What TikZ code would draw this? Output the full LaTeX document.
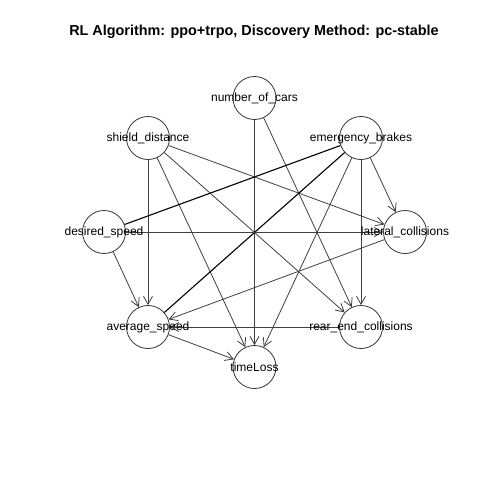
\documentclass[tikz,border=0pt]{standalone}
\usepackage{fontspec}
\setmainfont{Liberation Sans}
\usetikzlibrary{arrows.meta}
\begin{document}
\begin{tikzpicture}[x=1pt,y=-1pt,
  vnode/.style={circle,draw=black!80,line width=0.8pt,minimum size=43pt,inner sep=0pt},
  vlab/.style={font=\fontsize{12}{14}\selectfont,inner sep=0pt},
  dir/.style={draw=black!75,line width=0.8pt,-{Straight Barb[length=8pt,width=9pt]}},
  undir/.style={draw=black,line width=1.1pt}]
\useasboundingbox (0,0) rectangle (480,480);
\node[font=\fontsize{14.4}{16}\selectfont\bfseries] (title) at (254,32) {RL Algorithm: ppo+trpo, Discovery Method: pc-stable};
\node[vnode] (nc) at (254.5,98) {};
\node[vnode] (sd) at (148,138) {};
\node[vnode] (eb) at (361,138) {};
\node[vnode] (ds) at (104,232) {};
\node[vnode] (lc) at (405,232) {};
\node[vnode] (as) at (148,327) {};
\node[vnode] (rc) at (361,327) {};
\node[vnode] (tl) at (254.5,367) {};
% edges
\draw[dir] (nc) -- (tl);
\draw[dir] (nc) -- (rc);
\draw[dir] (sd) -- (lc);
\draw[dir] (sd) -- (rc);
\draw[dir] (sd) -- (as);
\draw[dir] (sd) -- (tl);
\draw[undir] (eb) -- (ds);
\draw[undir] (eb) -- (as);
\draw[dir] (eb) -- (lc);
\draw[dir] (eb) -- (rc);
\draw[dir] (eb) -- (tl);
\draw[dir] (ds) -- (lc);
\draw[dir] (ds) -- (as);
\draw[dir] (lc) -- (as);
\draw[dir] (rc) -- (as);
\draw[dir] (as) -- (tl);
% labels
\node[vlab] (ncl) at (nc) {number\_of\_cars};
\node[vlab] (sdl) at (sd) {shield\_distance};
\node[vlab] (ebl) at (eb) {emergency\_brakes};
\node[vlab] (dsl) at (ds) {desired\_speed};
\node[vlab] (lcl) at (lc) {lateral\_collisions};
\node[vlab] (asl) at (as) {average\_speed};
\node[vlab] (rcl) at (rc) {rear\_end\_collisions};
\node[vlab] (tll) at (tl) {timeLoss};
\end{tikzpicture}
\end{document}
